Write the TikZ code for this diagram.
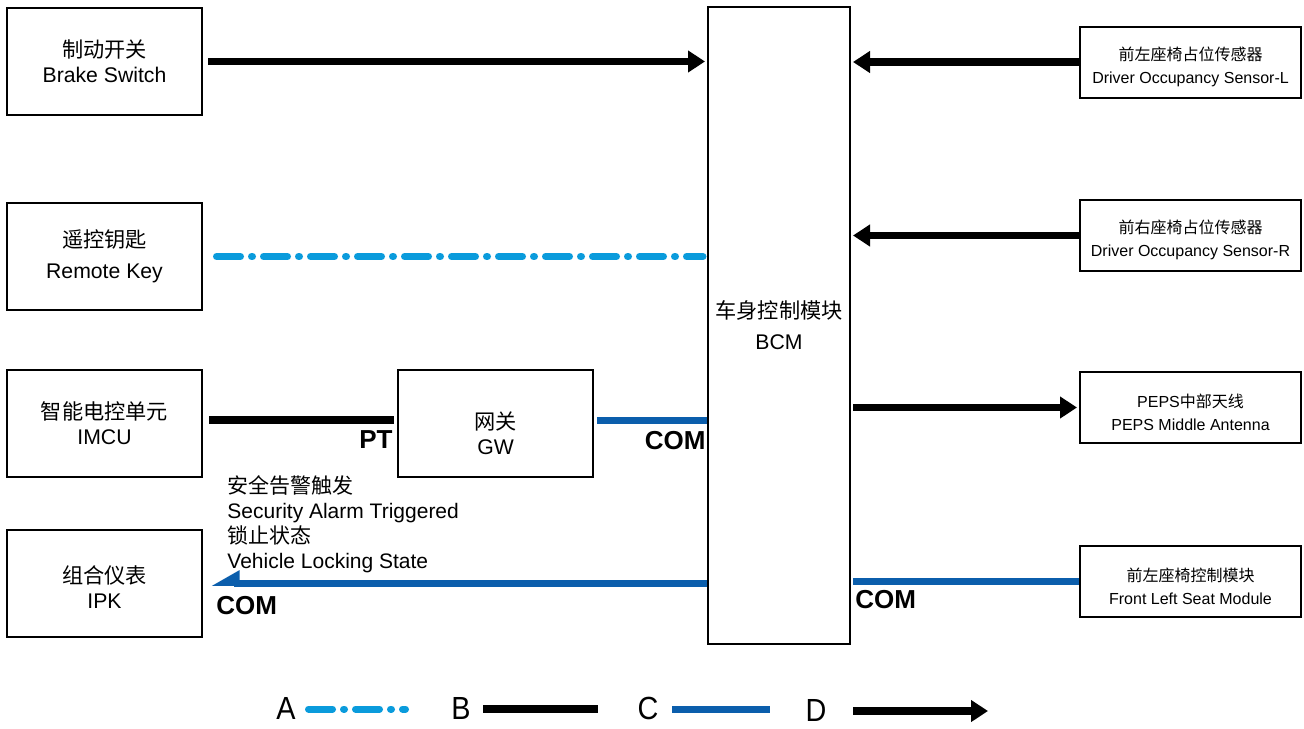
\documentclass[tikz,border=0pt]{standalone}
\usepackage{fontspec}
\setmainfont{Liberation Sans}
\newfontfamily\cjk{Noto Sans CJK SC}
\usetikzlibrary{arrows.meta,calc}
\definecolor{lightblu}{HTML}{0A9BDC}
\definecolor{darkblu}{HTML}{0B5EAC}
\tikzset{
  blk/.style={rectangle,draw=black,line width=1pt,align=center,inner sep=0pt,
    minimum width=97.5pt,minimum height=53.5pt,font=\fontsize{10.6}{12.5}\selectfont},
  blks/.style={rectangle,draw=black,line width=1pt,align=center,inner sep=0pt,
    minimum width=110.5pt,minimum height=35.5pt,font=\fontsize{8}{11.5}\selectfont},
  ar/.style={-{Triangle[length=8.5pt,width=10.5pt]},line width=3.75pt,draw=black},
  lnb/.style={line width=3.75pt,draw=black},
  lnc/.style={line width=3.5pt,draw=darkblu},
  lna/.style={line width=3.5pt,draw=lightblu,line cap=round,
    dash pattern=on 12pt off 5.5pt on 0.5pt off 5.5pt},
  lbl/.style={font=\fontsize{13}{13}\selectfont\bfseries,inner sep=0pt},
  txt/.style={font=\fontsize{10.5}{12.5}\selectfont,align=left,inner sep=0pt},
  leg/.style={font=\fontsize{16}{16}\selectfont,inner sep=0pt},
}
\begin{document}
\begin{tikzpicture}[x=0.5pt,y=-0.5pt]
  \useasboundingbox (0,0) rectangle (1304,728);
  % left side
  \node[blk] (brake) at (104.5,61.5) {{\cjk 制动开关}\\Brake Switch};
  \node[blk] (rkey) at (104.5,256.5) {{\cjk 遥控钥匙}\\[3pt]Remote Key};
  \node[blk] (imcu) at (104.5,423.5) {{\cjk 智能电控单元}\\IMCU};
  \node[blk] (ipk) at (104.5,583) {\\[0pt]{\cjk 组合仪表}\\IPK};
  \node[blk] (gw) at (495.5,423.5) {\\[6pt]{\cjk 网关}\\GW};
  % body control module
  \node[blk,minimum width=71pt,minimum height=318.5pt] (bcm) at (779,325.5) {{\cjk 车身控制模块}\\[3pt]BCM};
  % right side
  \node[blks] (occl) at (1190.5,62) {\\[0pt]{\cjk 前左座椅占位传感器}\\Driver Occupancy Sensor-L};
  \node[blks] (occr) at (1190.5,235.5) {\\[0pt]{\cjk 前右座椅占位传感器}\\Driver Occupancy Sensor-R};
  \node[blks] (peps) at (1190.5,407.5) {\\[0pt]PEPS{\cjk 中部天线}\\PEPS Middle Antenna};
  \node[blks] (fls) at (1190.5,581.5) {\\[0pt]{\cjk 前左座椅控制模块}\\Front Left Seat Module};
  % connectors
  \draw[ar,shorten <=2.5pt,shorten >=1pt] (brake.east) -- (brake.east -| bcm.west);
  \draw[ar,shorten >=1pt] (occl.west) -- (occl.west -| bcm.east);
  \draw[ar,shorten >=1pt] (occr.west) -- (occr.west -| bcm.east);
  \draw[ar,shorten <=1pt,shorten >=1pt] (peps.west -| bcm.east) -- (peps.west);
  \draw[lna,shorten <=6.75pt,shorten >=2pt] (rkey.east) -- (rkey.east -| bcm.west);
  \draw[lnb,shorten <=3pt,shorten >=1.5pt] ([yshift=1.75pt]imcu.east) -- ([yshift=1.75pt]gw.west);
  \draw[lnc,shorten <=1.5pt] ([yshift=1.75pt]gw.east) -- ([yshift=1.75pt]gw.east -| bcm.west);
  \draw[lnc,-{Stealth[length=11.5pt,width=12pt,inset=0pt,harpoon,swap]},shorten >=4pt]
    (ipk.east -| bcm.west) -- (ipk.east);
  \draw[lnc,shorten >=1pt] (fls.west) -- (fls.west -| bcm.east);
  % labels
  \node[lbl,anchor=east] (pt) at (393,440) {PT};
  \node[lbl,anchor=east] (comgw) at (706,441) {COM};
  \node[lbl,anchor=west] (comipk) at (216,606) {COM};
  \node[lbl,anchor=west] (comfls) at (855,600) {COM};
  \node[txt,anchor=west] (alarm) at (227,524.5) {{\cjk 安全告警触发}\\Security Alarm Triggered\\{\cjk 锁止状态}\\Vehicle Locking State};
  % legend
  \node[leg] (lega) at (286,708) {\scalebox{0.9}[1]{A}};
  \node[leg] (legb) at (461,708) {\scalebox{0.9}[1]{B}};
  \node[leg] (legc) at (648,708) {\scalebox{0.9}[1]{C}};
  \node[leg] (legd) at (816,710) {\scalebox{0.9}[1]{D}};
  \coordinate (la1) at (308.5,709); \coordinate (la2) at (405.5,709);
  \coordinate (lb1) at (483,709); \coordinate (lb2) at (598,709);
  \coordinate (lc1) at (672,709); \coordinate (lc2) at (770,709);
  \coordinate (ld1) at (853,711); \coordinate (ld2) at (988,711);
  \draw[lna] (la1) -- (la2);
  \draw[lnb] (lb1) -- (lb2);
  \draw[lnc] (lc1) -- (lc2);
  \draw[ar] (ld1) -- (ld2);
\end{tikzpicture}
\end{document}
